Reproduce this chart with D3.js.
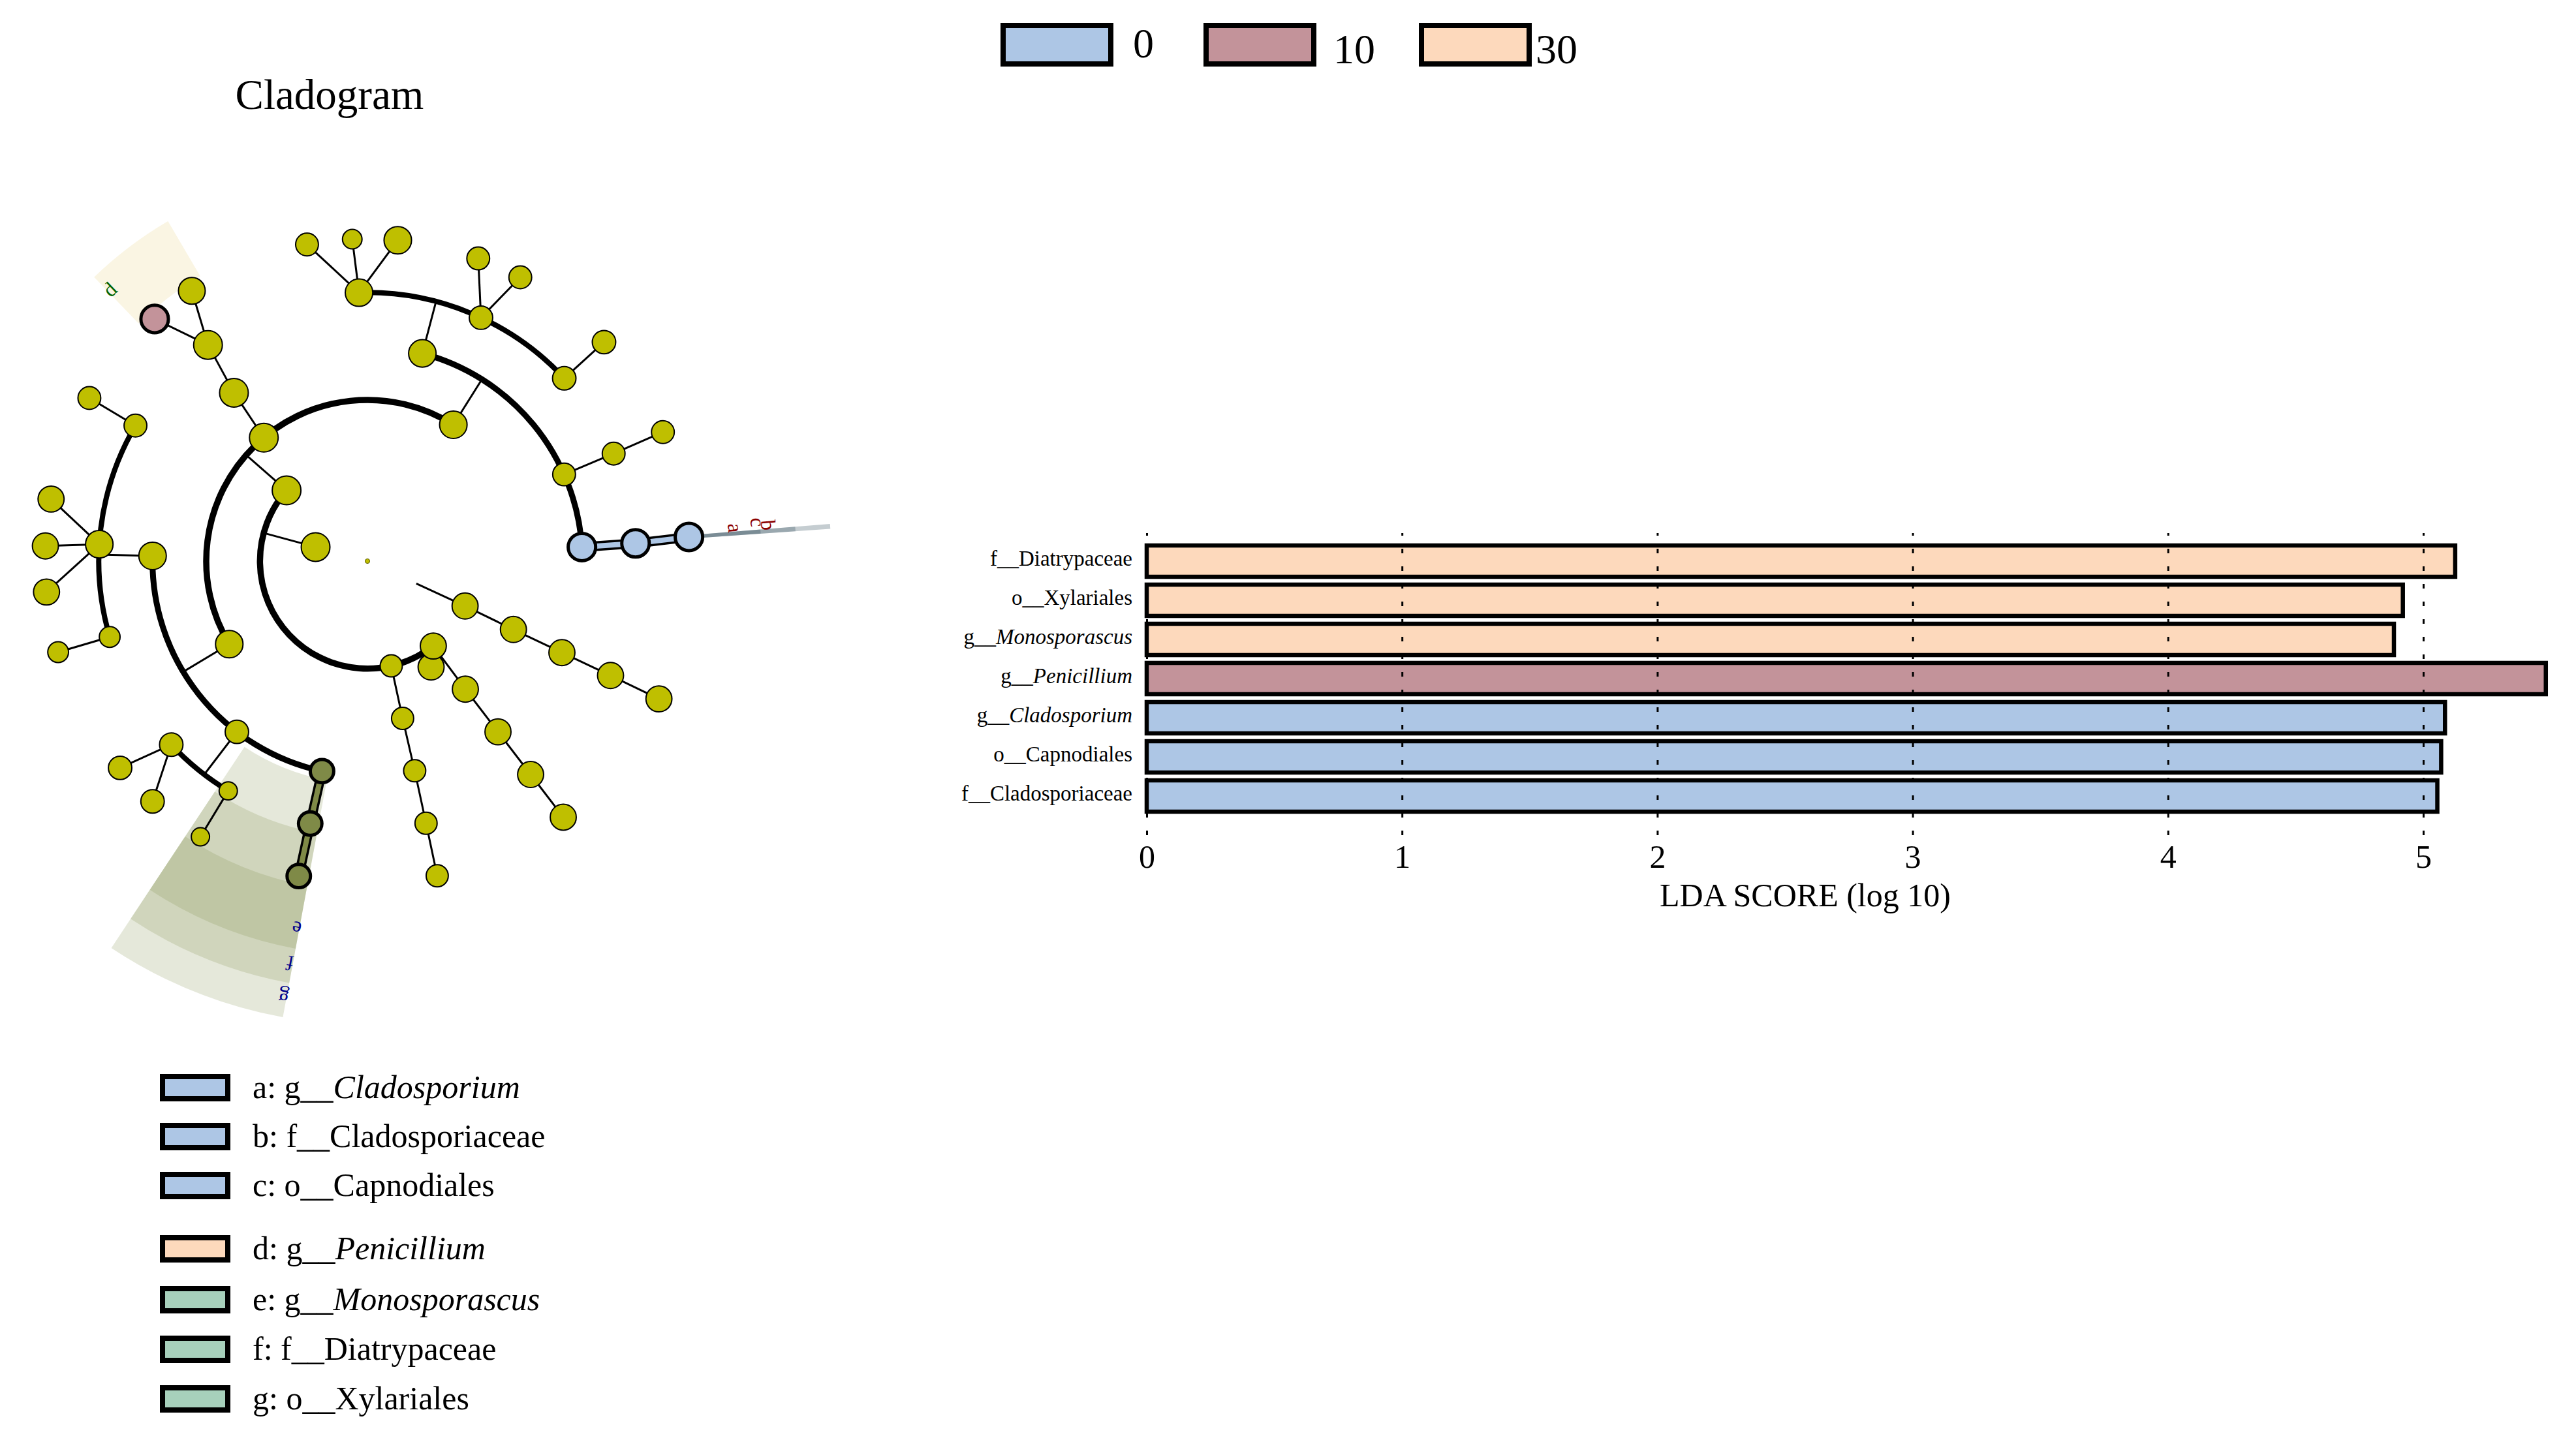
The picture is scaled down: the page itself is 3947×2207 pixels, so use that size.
<!DOCTYPE html>
<html lang="en">
<head>
<meta charset="UTF-8">
<title>LEfSe cladogram</title>
<style>
  body { margin: 0; background: #fff; }
  svg text { font-family: "Liberation Serif", "Times New Roman", serif; fill: #000; }
</style>
</head>
<body>
<div id="chart"></div>
<script src="https://cdn.jsdelivr.net/npm/d3@7"></script>
<script>
// groups
const GROUPS = ["0", "10", "30"];
const GROUP_COLORS = ["#adc6e5", "#c3939a", "#fdd9bc"];

// LDA bars (top to bottom)
const BAR_TAXA = ["f__Diatrypaceae", "o__Xylariales", "g__Monosporascus", "g__Penicillium",
                  "g__Cladosporium", "o__Capnodiales", "f__Cladosporiaceae"];
const BAR_GROUP = ["30", "30", "30", "10", "0", "0", "0"];
const BAR_LDA = [5.125, 4.92, 4.885, 5.48, 5.085, 5.07, 5.055];
const LDA_TICKS = [0, 1, 2, 3, 4, 5];

// cladogram legend
const HL_KEYS = ["a", "b", "c", "d", "e", "f", "g"];
const HL_TAXA = ["g__Cladosporium", "f__Cladosporiaceae", "o__Capnodiales", "g__Penicillium",
                 "g__Monosporascus", "f__Diatrypaceae", "o__Xylariales"];
const HL_LEGEND_COLORS = ["#adc6e5", "#adc6e5", "#adc6e5", "#fdd9bc", "#a7d0bb", "#a7d0bb", "#a7d0bb"];
const HL_NODE_COLORS = ["#adc6e5", "#adc6e5", "#adc6e5", "#c3939a", "#7f8a47", "#7f8a47", "#7f8a47"];
const HL_SECTOR_COLORS = ["#1f3f4f", "#1f3f4f", "#1f3f4f", "#e6cd73", "#7f8a47", "#7f8a47", "#7f8a47"];
const HL_LABEL_COLORS = ["#8b0000", "#8b0000", "#8b0000", "#006400", "#00008b", "#00008b", "#00008b"];
const HL_ANGLE_FROM = [355.4, 355.4, 355.4, 226.1, 100.5, 100.5, 100.5];
const HL_ANGLE_TO = [356.0, 356.0, 356.0, 239.6, 123.5, 123.5, 123.5];

// cladogram tree: id, parent, level, angle (deg, clockwise from 3 o'clock), abundance, highlight key
const CLADE_NODES = [
  ["root", "", 0, 0, 2.2, ""],
  ["p1", "root", 1, 195.2, 84, ""],
  ["p2", "root", 1, 24.6, 0, ""],
  ["p2c", "p2", 2, 24.7, 69, ""],
  ["p2o", "p2c", 3, 25.1, 69, ""],
  ["p2f", "p2o", 4, 25.2, 69, ""],
  ["p2g", "p2f", 5, 25.2, 69, ""],
  ["p2s", "p2g", 6, 25.3, 69, ""],
  ["c1", "p1", 2, 221.2, 84, ""],
  ["c2", "p1", 2, 77.2, 50, ""],
  ["c4", "p1", 2.3, 59, 69, ""],
  ["c3", "p1", 2, 52.2, 69, ""],
  ["c2o", "c2", 3, 77.4, 50, ""],
  ["c2f", "c2o", 4, 77.3, 50, ""],
  ["c2g", "c2f", 5, 77.4, 50, ""],
  ["c2s", "c2g", 6, 77.5, 50, ""],
  ["c3o", "c3", 3, 52.6, 69, ""],
  ["c3f", "c3o", 4, 52.6, 69, ""],
  ["c3g", "c3f", 5, 52.6, 69, ""],
  ["c3s", "c3g", 6, 52.6, 69, ""],
  ["o1", "c1", 3, 149.0, 77, ""],
  ["o2", "c1", 3, 230.0, 84, ""],
  ["o3", "c1", 3, 302.2, 77, ""],
  ["f1", "o1", 4, 181.4, 77, ""],
  ["f2", "o1", 4, 127.4, 56, ""],
  ["f3", "o1", 4, 102.2, 56, "g"],
  ["g1", "f1", 5, 210.3, 53, ""],
  ["g2", "f1", 5, 183.6, 77, ""],
  ["g3", "f1", 5, 163.6, 44, ""],
  ["s1", "g1", 6, 210.4, 53, ""],
  ["s2", "g2", 6, 191.1, 69, ""],
  ["s3", "g2", 6, 182.7, 69, ""],
  ["s4", "g2", 6, 174.5, 69, ""],
  ["s5", "g3", 6, 163.6, 44, ""],
  ["g4", "f2", 5, 136.9, 56, ""],
  ["g5", "f2", 5, 121.2, 34, ""],
  ["s6", "g4", 6, 140.1, 56, ""],
  ["s7", "g4", 6, 131.8, 56, ""],
  ["s8", "g5", 6, 121.2, 34, ""],
  ["g6", "f3", 5, 102.3, 56, "f"],
  ["s9", "g6", 6, 102.3, 56, "e"],
  ["f4", "o2", 4, 231.6, 84, ""],
  ["g7", "f4", 5, 233.6, 84, ""],
  ["s10", "g7", 6, 237.0, 73, ""],
  ["s11", "g7", 6, 228.7, 77, "d"],
  ["f5", "o3", 4, 284.8, 77, ""],
  ["f6", "o3", 4, 336.2, 53, ""],
  ["f7", "o3", 4, 356.25, 77, "c"],
  ["g8", "f5", 5, 268.2, 77, ""],
  ["g9", "f5", 5, 295.0, 56, ""],
  ["g10", "f5", 5, 317.1, 56, ""],
  ["s12", "g8", 6, 259.2, 53, ""],
  ["s13", "g8", 6, 267.3, 39, ""],
  ["s14", "g8", 6, 275.4, 77, ""],
  ["s15", "g9", 6, 290.1, 53, ""],
  ["s16", "g9", 6, 298.3, 53, ""],
  ["s17", "g10", 6, 317.2, 56, ""],
  ["g11", "f6", 5, 336.4, 53, ""],
  ["s18", "g11", 6, 336.4, 53, ""],
  ["g12", "f7", 5, 356.2, 77, "b"],
  ["s19", "g12", 6, 355.7, 77, "a"]
];

const W = 3947, H = 2207;
const svg = d3.select("#chart").append("svg").attr("width", W).attr("height", H);

// ---------- cladogram ----------
const CX = 563, CY = 860;
const rScale = d3.scaleLinear().domain([0, 6]).range([0, 494]);
const aScale = d3.scaleLinear().domain([0, 360]).range([0, 2 * Math.PI]);
const size = d3.scaleSqrt().domain([0, 100]).range([0, 24]);
const ARC_W = {2: 9.5, 3: 9.5, 4: 9, 5: 8};
const pt = (r, deg) => [CX + r * Math.cos(aScale(deg)), CY + r * Math.sin(aScale(deg))];
const keyIdx = k => HL_KEYS.indexOf(k);

const table = CLADE_NODES.map(([id, parent, level, angle, abund, key]) => ({id, parent, level, angle, abund, key}));
const tree = d3.stratify().id(d => d.id).parentId(d => d.parent)(table);
const hlNode = {};
tree.each(n => { if (n.data.key) hlNode[n.data.key] = n; });

svg.append("text").attr("x", 505).attr("y", 167).attr("text-anchor", "middle")
  .attr("font-size", 65).text("Cladogram");

// shaded sectors
const sectorArc = d3.arc();
const gSect = svg.append("g").attr("transform", `translate(${CX},${CY})`);
HL_KEYS.forEach((k, i) => {
  const lvl = hlNode[k].data.level;
  gSect.append("path")
    .attr("d", sectorArc({
      innerRadius: rScale(lvl) + 12,
      outerRadius: 604 + (6 - lvl) * 53.5,
      startAngle: aScale(HL_ANGLE_FROM[i]) + Math.PI / 2,
      endAngle: aScale(HL_ANGLE_TO[i]) + Math.PI / 2
    }))
    .attr("fill", HL_SECTOR_COLORS[i]).attr("fill-opacity", i < 3 ? 0.26 : 0.2);
});

// branches
const gLinks = svg.append("g").attr("fill", "none").attr("stroke", "#000");
const gHl = svg.append("g").attr("fill", "none");
function line(g, a, b, w, color) {
  g.append("line").attr("x1", a[0]).attr("y1", a[1]).attr("x2", b[0]).attr("y2", b[1])
    .attr("stroke", color || "#000").attr("stroke-width", w);
}
tree.each(n => {
  if (!n.children || n.depth === 0) return;
  const d = n.data, kids = n.children;
  const from = pt(rScale(d.level), d.angle);
  if (kids.length === 1 || kids.every(k => k.data.level >= 6)) {
    kids.forEach(k => {
      const to = pt(rScale(k.data.level), k.data.angle);
      if (d.key && k.data.key) {
        line(gHl, from, to, 15, "#000");
        line(gHl, from, to, 8, HL_NODE_COLORS[keyIdx(k.data.key)]);
      } else {
        line(gLinks, from, to, 3);
      }
    });
    return;
  }
  const arcR = rScale(d.level + 1);
  const angs = kids.map(k => k.data.angle).concat([d.angle]);
  const p = d3.path();
  p.arc(CX, CY, arcR, aScale(d3.min(angs)), aScale(d3.max(angs)));
  gLinks.append("path").attr("d", p.toString()).attr("stroke-width", ARC_W[d.level + 1]);
  line(gLinks, from, pt(arcR, d.angle), 3);
  kids.forEach(k => {
    if (rScale(k.data.level) !== arcR) line(gLinks, pt(arcR, k.data.angle), pt(rScale(k.data.level), k.data.angle), 3);
  });
});

// nodes
svg.append("g").selectAll("circle")
  .data(tree.descendants().filter(n => n.data.abund > 0))
  .join("circle")
  .attr("cx", n => pt(rScale(n.data.level), n.data.angle)[0])
  .attr("cy", n => pt(rScale(n.data.level), n.data.angle)[1])
  .attr("r", n => size(n.data.abund))
  .attr("fill", n => n.data.key ? HL_NODE_COLORS[keyIdx(n.data.key)] : "#bfbf00")
  .attr("stroke", n => n.depth === 0 ? "#5a5a00" : "#000")
  .attr("stroke-width", n => n.data.key ? 5 : (n.depth === 0 ? 1 : 2));

// sector letters
const LABEL_TWEAK = {a: {r: 566, da: -0.55}, b: {r: 617, da: -0.55}, c: {r: 601, da: -1.1}};
HL_KEYS.forEach((k, i) => {
  const lvl = hlNode[k].data.level;
  const t = LABEL_TWEAK[k] || {r: 604 + (6 - lvl) * 53.5 - 30, da: 0.4};
  const ang = HL_ANGLE_FROM[i] + t.da;
  const [lx, ly] = pt(t.r, ang);
  svg.append("text").attr("transform", `translate(${lx},${ly}) rotate(${ang + 90})`)
    .attr("text-anchor", "middle").attr("dominant-baseline", "central")
    .attr("font-size", 32).style("fill", HL_LABEL_COLORS[i]).text(k);
});

function taxonText(sel, name) {
  const [rank, rest] = name.split("__");
  sel.append("tspan").text(rank + "__");
  sel.append("tspan").attr("font-style", rank === "g" ? "italic" : null).text(rest);
}

// bottom legend
const LEG_ROW_Y = [1667, 1742, 1817, 1914, 1992, 2068, 2144];
const gLeg = svg.append("g");
HL_KEYS.forEach((k, i) => {
  gLeg.append("rect").attr("x", 249).attr("y", LEG_ROW_Y[i] - 17).attr("width", 100).attr("height", 34)
    .attr("fill", HL_LEGEND_COLORS[i]).attr("stroke", "#000").attr("stroke-width", 8);
  const t = gLeg.append("text").attr("x", 387).attr("y", LEG_ROW_Y[i] + 16).attr("font-size", 50);
  t.append("tspan").text(k + ": ");
  taxonText(t, HL_TAXA[i]);
});

// ---------- LDA bar chart ----------
const x = d3.scaleLinear().domain([0, 5]).range([1757, 3713]);
const y = d3.scaleBand().domain(BAR_TAXA).range([830, 1250]).paddingInner(0.2).paddingOuter(0.1);
const color = d3.scaleOrdinal().domain(GROUPS).range(GROUP_COLORS);

svg.append("g").selectAll("rect")
  .data(BAR_TAXA)
  .join("rect")
  .attr("x", x(0))
  .attr("y", t => y(t))
  .attr("width", (t, i) => x(BAR_LDA[i]) - x(0))
  .attr("height", y.bandwidth())
  .attr("fill", (t, i) => color(BAR_GROUP[i]))
  .attr("stroke", "#000").attr("stroke-width", 6.5);

const gAxis = svg.append("g").attr("transform", "translate(0,1280)")
  .call(d3.axisBottom(x).tickValues(LDA_TICKS).tickFormat(d3.format("d")).tickSize(-463).tickPadding(14));
gAxis.select(".domain").remove();
gAxis.selectAll(".tick line").attr("stroke-width", 3).attr("stroke-dasharray", "7 20");
gAxis.selectAll(".tick text").attr("font-size", 50)
  .attr("font-family", "Liberation Serif, Times New Roman, serif");

svg.append("text").attr("x", 2766).attr("y", 1389).attr("text-anchor", "middle")
  .attr("font-size", 50).text("LDA SCORE (log 10)");

svg.append("g").selectAll("text")
  .data(BAR_TAXA)
  .join("text")
  .attr("x", 1735)
  .attr("y", t => y(t) + y.bandwidth() / 2 + 7)
  .attr("text-anchor", "end")
  .attr("font-size", 33)
  .each(function (t) { taxonText(d3.select(this), t); });

// group legend
const LEG_BOX_X = [1537, 1848, 2178];
const LEG_TEXT_X = [1736, 2043, 2353];
const LEG_TEXT_Y = [88, 97, 97];
GROUPS.forEach((g, i) => {
  svg.append("rect").attr("x", LEG_BOX_X[i]).attr("y", 39).attr("width", 165).attr("height", 59)
    .attr("fill", color(g)).attr("stroke", "#000").attr("stroke-width", 8);
  svg.append("text").attr("x", LEG_TEXT_X[i]).attr("y", LEG_TEXT_Y[i]).attr("font-size", 64).text(g);
});
</script>
</body>
</html>
